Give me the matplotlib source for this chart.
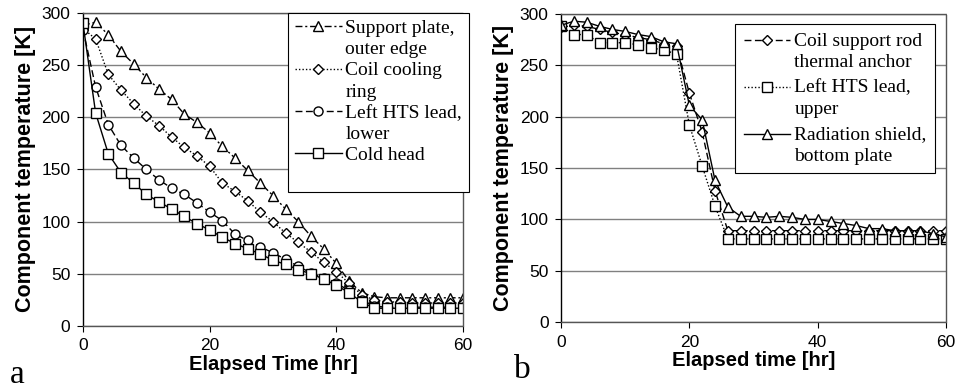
import matplotlib
matplotlib.use("Agg")
import matplotlib.pyplot as plt
from matplotlib.lines import Line2D
from matplotlib.legend_handler import HandlerLine2D

# ---------------- data ----------------
time_hr = list(range(0, 61, 2))

# panel a
support_plate = [288, 291, 279, 263, 251, 238, 227, 217, 203, 195, 185, 172, 161, 149, 137,
                 125, 112, 100, 86, 74, 60, 43, 32, 28, 27, 27, 27, 27, 27, 27, 27]
coil_ring = [285, 275, 241, 226, 213, 201, 192, 181, 171, 163, 153, 137, 129, 120, 109,
             100, 89, 80, 71, 61, 52, 41, 30, 25, 23, 23, 22, 22, 22, 22, 22]
hts_lower = [284, 229, 193, 173, 161, 150, 140, 132, 126, 118, 109, 101, 88, 82, 76,
             70, 64, 57, 51, 46, 41, 34, 25, 19, 18, 18, 18, 18, 18, 18, 18]
cold_head = [290, 204, 165, 147, 137, 126, 119, 112, 105, 98, 92, 85, 79, 74, 69,
             63, 59, 54, 50, 45, 39, 32, 23, 17, 17, 17, 17, 17, 17, 17, 17]

# panel b
rod_anchor = [287, 289, 288, 285, 282, 280, 277, 275, 271, 269, 223, 185, 128, 89, 89,
              89, 89, 89, 89, 89, 89, 89, 89, 89, 89, 89, 89, 89, 89, 89, 89]
hts_upper = [288, 280, 280, 272, 272, 272, 270, 267, 265, 261, 192, 152, 113, 81, 81,
             81, 81, 81, 81, 81, 81, 81, 81, 81, 81, 81, 81, 81, 81, 81, 81]
rad_shield = [289, 293, 292, 288, 285, 283, 280, 278, 273, 271, 211, 197, 138, 112, 103,
              103, 102, 103, 102, 100, 100, 98, 96, 94, 91, 91, 89, 89, 89, 86, 83]

labels_a = [["Support plate,", "outer edge"], ["Coil cooling", "ring"],
            ["Left HTS lead,", "lower"], ["Cold head"]]
labels_b = ["Coil support rod\nthermal anchor", "Left HTS lead,\nupper",
            "Radiation shield,\nbottom plate"]

xticks = [0, 20, 40, 60]
yticks = [0, 50, 100, 150, 200, 250, 300]

SANS = "Liberation Sans"
SERIF = "Liberation Serif"
LEG_FS = 14

fig = plt.figure(figsize=(9.58, 3.89), dpi=100)


def style_axes(ax, xlabel):
    ax.set_xlim(0, 60)
    ax.set_ylim(0, 300)
    ax.set_xticks(xticks)
    ax.set_yticks(yticks)
    ax.tick_params(direction="out", length=4, width=0.8, labelsize=12.5, pad=5)
    for lab in ax.get_xticklabels() + ax.get_yticklabels():
        lab.set_fontfamily(SANS)
    ax.set_xlabel(xlabel, fontfamily=SANS, fontweight="bold", fontsize=14.5, labelpad=1)
    ax.set_ylabel("Component temperature [K]", fontfamily=SANS, fontweight="bold",
                  fontsize=15.5, labelpad=4)
    ax.grid(axis="y", color="#808080", linewidth=1.0)
    ax.set_axisbelow(True)
    ax.spines["left"].set_color("black")
    ax.spines["left"].set_linewidth(1.0)
    for s in ("top", "right", "bottom"):
        ax.spines[s].set_color("#555555")
        ax.spines[s].set_linewidth(1.0)
        ax.spines[s].set_linestyle((0, (1, 1)))


class FirstLineHandler(HandlerLine2D):
    """Place the legend handle on the first line of a two-line label."""

    def __init__(self, shift, **kw):
        super().__init__(**kw)
        self.shift = shift

    def create_artists(self, legend, orig_handle, xdescent, ydescent, width, height,
                       fontsize, trans):
        arts = super().create_artists(legend, orig_handle, xdescent, ydescent, width,
                                      height, fontsize, trans)
        for a in arts:
            a.set_ydata([y + self.shift for y in a.get_ydata()])
        return arts


mk = dict(color="black", markerfacecolor="white", markeredgecolor="black",
          markeredgewidth=1.0, linewidth=1.0)

# ---------- panel a ----------
axa = fig.add_axes([0.0866, 0.162, 0.3966, 0.805])
h1, = axa.plot(time_hr, support_plate, linestyle=(0, (5, 2, 1.5, 2)), marker="^",
               markersize=7.5, **mk)
h2, = axa.plot(time_hr, coil_ring, linestyle=(0, (1, 1.5)), marker="D",
               markersize=5.5, **mk)
h3, = axa.plot(time_hr, hts_lower, linestyle=(0, (5, 2.5)), marker="o",
               markersize=6.5, **mk)
h4, = axa.plot(time_hr, cold_head, linestyle="-", marker="s",
               markersize=7, **mk)
style_axes(axa, "Elapsed Time [hr]")

hs, ls = [], []
for h, lab in zip([h1, h2, h3, h4], labels_a):
    hs.append(h)
    ls.append(lab[0])
    for extra in lab[1:]:
        hs.append(Line2D([], [], linestyle="none", marker="none"))
        ls.append(extra)
hs.append(Line2D([], [], linestyle="none", marker="none"))
ls.append(" ")
leg_a = axa.legend(hs, ls, loc="upper left", bbox_to_anchor=(0.54, 1.0), frameon=True,
                   fancybox=False, edgecolor="black", framealpha=1,
                   prop={"family": SERIF, "size": LEG_FS}, handlelength=2.4,
                   handletextpad=0.2, labelspacing=0.18, borderpad=0.35,
                   borderaxespad=0)
leg_a.get_frame().set_linewidth(0.8)

# ---------- panel b ----------
axb = fig.add_axes([0.5856, 0.172, 0.4019, 0.792])
g1, = axb.plot(time_hr, rod_anchor, linestyle=(0, (5, 2.5)), marker="D",
               markersize=5.5, **mk)
g2, = axb.plot(time_hr, hts_upper, linestyle=(0, (1, 1.5)), marker="s",
               markersize=6.5, **mk)
g3, = axb.plot(time_hr, rad_shield, linestyle="-", marker="^",
               markersize=7.5, **mk)
style_axes(axb, "Elapsed time [hr]")

shift = 0.6 * LEG_FS
leg_b = axb.legend([g1, g2, g3], labels_b, loc="upper left",
                   bbox_to_anchor=(0.452, 0.968), frameon=True, fancybox=False,
                   edgecolor="black", framealpha=1,
                   prop={"family": SERIF, "size": LEG_FS}, handlelength=2.4,
                   handletextpad=0.2, labelspacing=0.45, borderpad=0.45,
                   borderaxespad=0,
                   handler_map={Line2D: FirstLineHandler(shift)})
for t in leg_b.get_texts():
    t.set_linespacing(1.32)
leg_b.get_frame().set_linewidth(0.8)

# panel letters
fig.text(0.010, 0.015, "a", fontfamily=SERIF, fontsize=24)
fig.text(0.536, 0.028, "b", fontfamily=SERIF, fontsize=24)

fig.savefig("out.png", dpi=100)
